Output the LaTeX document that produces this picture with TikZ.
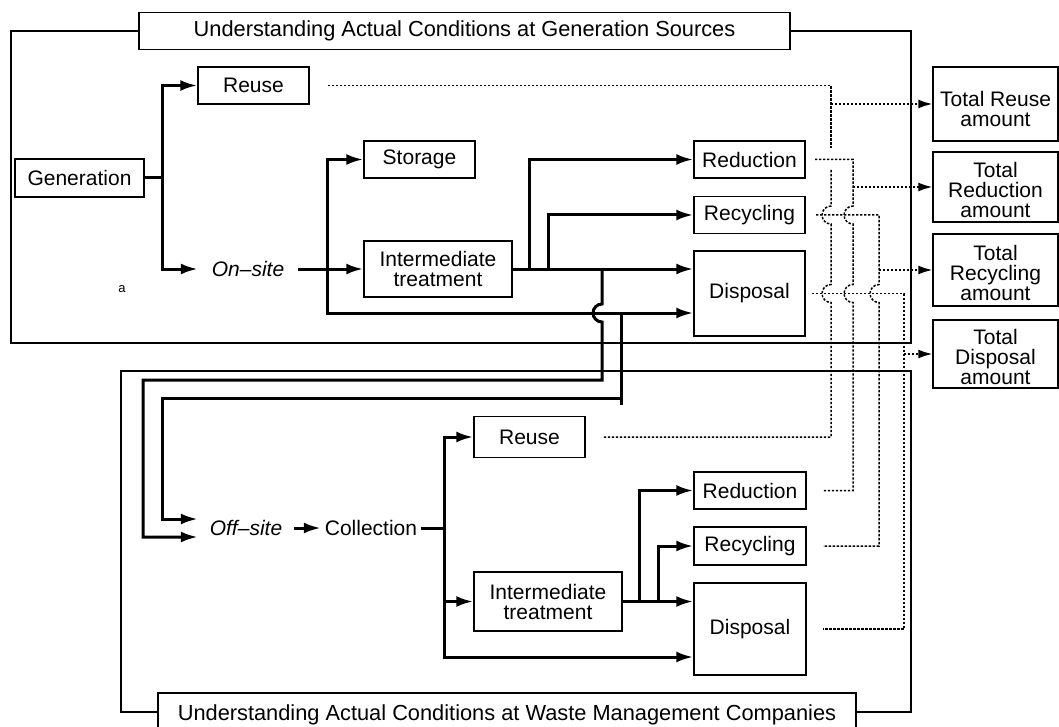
\documentclass[tikz,border=0pt]{standalone}
\usepackage{fontspec}
\setmainfont{Liberation Sans}
\usetikzlibrary{arrows.meta}
\begin{document}
\begin{tikzpicture}[x=1pt,y=-1pt,
  txt/.style={font=\fontsize{21}{20}\selectfont},
  box/.style={draw,line width=1.5pt,inner sep=0pt,align=center,txt},
  lbl/.style={inner sep=0pt,align=center,txt},
  flow/.style={line width=3pt},
  arr/.style={flow,-{Latex[length=17pt,width=11pt]}},
  dot/.style={line width=1.5pt,dash pattern=on 2.4pt off 1.6pt},
  darr/.style={dot,-{Latex[length=14pt,width=9pt]}},
  frame/.style={line width=1.3pt},
  ttl/.style={font=\fontsize{21.8}{22}\selectfont},
]
\useasboundingbox (0,0) rectangle (1059,727);

% titles and frames
\node[box,ttl,minimum width=651pt,minimum height=37pt] (titleA) at (464.5,31) {Understanding Actual Conditions at Generation Sources};
\node[box,ttl,minimum width=698pt,minimum height=44pt] (titleB) at (507,715) {Understanding Actual Conditions at Waste Management Companies};
\coordinate (fA1) at (11,31);
\coordinate (fA2) at (11,343);
\coordinate (fA3) at (911,343);
\coordinate (fA4) at (911,31);
\draw[frame] (titleA.west) -- (fA1) -- (fA2) -- (fA3) -- (fA4) -- (titleA.east);
\coordinate (fB1) at (121,712);
\coordinate (fB2) at (121,371);
\coordinate (fB3) at (911,371);
\coordinate (fB4) at (911,712);
\draw[frame] (titleB.west |- fB1) -- (fB1) -- (fB2) -- (fB3) -- (fB4) -- (titleB.east |- fB4);

% top section nodes
\node[box,minimum width=129pt,minimum height=38pt] (gen) at (79.5,178) {Generation};
\node[box,minimum width=111pt,minimum height=37pt] (reuseA) at (253.5,85.5) {Reuse};
\node[lbl,minimum width=100pt,font=\fontsize{21}{20}\selectfont\itshape] (onsite) at (248,269) {On--site};
\node[box,minimum width=111pt,minimum height=37pt] (stor) at (419.5,159.5) {Storage};
\node[box,minimum width=148pt,minimum height=56pt] (itA) at (438,269) {Intermediate\\treatment};
\node[box,minimum width=111pt,minimum height=37pt] (redA) at (749.5,159.5) {Reduction};
\node[box,minimum width=111pt,minimum height=37pt] (recA) at (749.5,215) {Recycling};
\node[box,minimum width=111pt,minimum height=85pt] (disA) at (749.5,293.5) {Disposal};
\node[inner sep=0pt,font=\fontsize{13}{13}\selectfont] (amark) at (122,289) {a};

% bottom section nodes
\node[lbl,minimum width=96pt,font=\fontsize{21}{20}\selectfont\itshape] (offsite) at (246,528) {Off--site};
\node[lbl,minimum width=100pt] (coll) at (371,528) {Collection};
\node[box,minimum width=111pt,minimum height=41pt] (reuseB) at (529.5,437) {Reuse};
\node[box,minimum width=148pt,minimum height=59pt] (itB) at (548,601.5) {Intermediate\\treatment};
\node[box,minimum width=112pt,minimum height=37pt] (redB) at (750,490.5) {Reduction};
\node[box,minimum width=112pt,minimum height=38pt] (recB) at (750,546) {Recycling};
\node[box,minimum width=112pt,minimum height=92pt] (disB) at (750,629) {Disposal};

% totals
\node[box,minimum width=125pt,minimum height=74pt] (totR) at (995.5,104) {};
\node[lbl] (totRt) at (995.5,109) {Total Reuse\\amount};
\node[box,minimum width=125pt,minimum height=70pt] (totD) at (995.5,187) {};
\node[lbl] (totDt) at (995.5,190) {Total\\Reduction\\amount};
\node[box,minimum width=125pt,minimum height=72pt] (totC) at (995.5,270) {};
\node[lbl] (totCt) at (995.5,273) {Total\\Recycling\\amount};
\node[box,minimum width=125pt,minimum height=68pt] (totP) at (995.5,354) {};
\node[lbl] (totPt) at (995.5,357) {Total\\Disposal\\amount};

% top flows
\coordinate (j0) at (162,178);
\draw[flow] (gen.east) -- (j0);
\draw[arr] (j0) |- (reuseA.west);
\draw[arr] (j0) |- (onsite.west);
\draw[arr] (onsite.east) -- (onsite.east -| itA.west);
\coordinate (j1) at (327,269);
\coordinate (jlow) at (327,313);
\draw[arr] (j1) |- (stor.west);
\draw[arr] (j1) -- (jlow) -- (jlow -| disA.west);
\draw[arr] (itA.east) -- (itA.east -| disA.west);
\coordinate (j3) at (529,269);
\coordinate (j4) at (548,269);
\draw[arr] (j3) |- (redA.west);
\draw[arr] (j4) |- (recA.west);

% links to off-site
\coordinate (k1) at (602,269);
\draw[arr] (k1) -- (602,304) arc[start angle=270,end angle=90,radius=9] -- (602,380) -- (143,380) -- (143,537) -- ([yshift=-9pt]offsite.west);
\coordinate (k2) at (621,313);
\draw[flow] (k2) -- (621,405);
\draw[arr] (621,398) -- (162,398) -- (162,519) -- ([yshift=9pt]offsite.west);

% bottom flows
\draw[arr] (offsite.east) -- (coll.west);
\coordinate (j5) at (444,528);
\coordinate (jb) at (444,657);
\draw[flow] (coll.east) -- (j5);
\draw[arr] (j5) |- (reuseB.west);
\draw[arr] (j5) |- (itB.west);
\draw[arr] (j5) -- (jb) -- (jb -| disB.west);
\draw[arr] (itB.east) -- (itB.east -| disB.west);
\coordinate (j6) at (639,601.5);
\coordinate (j7) at (658,601.5);
\draw[arr] (j6) |- (redB.west);
\draw[arr] (j7) |- (recB.west);

% dotted collection lines
\coordinate (vR) at (831,85.5);
\coordinate (vD) at (853,159.5);
\coordinate (vC) at (879,215);
\coordinate (vP) at (904,293.5);
\draw[dot] (328,85.5) -- (vR) -- (831,148);
\draw[dot] (831,170) -- (831,206) arc[start angle=270,end angle=90,radius=9] -- (831,284.5) arc[start angle=270,end angle=90,radius=9] -- (831,437) -- (603,437);
\draw[dot] (815,159.5) -- (vD) -- (853,206) arc[start angle=270,end angle=90,radius=9] -- (853,284.5) arc[start angle=270,end angle=90,radius=9] -- (853,490.5) -- (823,490.5);
\draw[dot] (816,215) -- (vC) -- (879,284.5) arc[start angle=270,end angle=90,radius=9] -- (879,546) -- (823,546);
\draw[dot] (812,293.5) -- (vP) -- (904,629) -- (823,629);
\draw[darr] (vR |- totR.west) -- (totR.west);
\draw[darr] (vD |- totD.west) -- (totD.west);
\draw[darr] (vC |- totC.west) -- (totC.west);
\draw[darr] (vP |- totP.west) -- (totP.west);
\end{tikzpicture}
\end{document}
